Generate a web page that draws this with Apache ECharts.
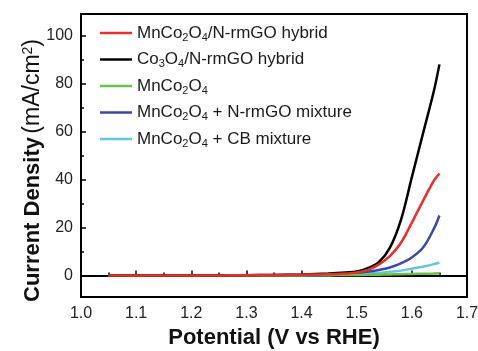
<!DOCTYPE html>
<html>
<head>
<meta charset="utf-8">
<script src="https://cdn.jsdelivr.net/npm/echarts@6/dist/echarts.min.js"></script>
<style>
    html, body { margin: 0; padding: 0; background: #fff; }
    #chart { width: 478px; height: 351px; }
</style>
</head>
<body>
<div id="chart"></div>
<script>
// potential (V vs RHE)
const potential = [1.05, 1.10, 1.15, 1.20, 1.25, 1.30, 1.35, 1.40, 1.45, 1.48, 1.50, 1.52, 1.54, 1.56, 1.58, 1.60, 1.62, 1.64, 1.65]
// current density (mA/cm2)
const mnCoHybrid = [0, 0, 0, 0, 0, 0.1, 0.15, 0.3, 0.5, 0.8, 1.2, 2.3, 4.5, 8, 13.5, 22, 31, 39.5, 42.5]
const coHybrid = [0, 0, 0, 0, 0, 0.1, 0.2, 0.4, 0.8, 1.2, 1.6, 3, 5.5, 11.5, 23, 41, 59, 77, 88]
const mnCo = [0, 0, 0, 0, 0, 0, 0, 0.05, 0.1, 0.15, 0.2, 0.25, 0.3, 0.4, 0.5, 0.6, 0.7, 0.8, 0.9]
const mnCoNrmGO = [0, 0, 0, 0, 0, 0.05, 0.1, 0.2, 0.3, 0.6, 0.9, 1.5, 2.3, 3.3, 5, 7.5, 11.5, 19.5, 25]
const mnCoCB = [0, 0, 0, 0, 0, 0, 0.05, 0.1, 0.2, 0.35, 0.5, 0.7, 1, 1.5, 2, 2.8, 3.6, 4.7, 5.4]
const seriesNames = ['MnCo2O4/N-rmGO hybrid', 'Co3O4/N-rmGO hybrid', 'MnCo2O4', 'MnCo2O4 + N-rmGO mixture', 'MnCo2O4 + CB mixture']
const legendLabels = [
    'MnCo{s|2}O{s|4}/N-rmGO hybrid',
    'Co{s|3}O{s|4}/N-rmGO hybrid',
    'MnCo{s|2}O{s|4}',
    'MnCo{s|2}O{s|4} + N-rmGO mixture',
    'MnCo{s|2}O{s|4} + CB mixture',
]
const seriesData = [mnCoHybrid, coHybrid, mnCo, mnCoNrmGO, mnCoCB]
const colors = ['#e8302a', '#000000', '#6cc04a', '#3a48a8', '#62c6df']
const xTicks = [1.0, 1.1, 1.2, 1.3, 1.4, 1.5, 1.6, 1.7]
const yMajor = [0, 20, 40, 60, 80, 100]
const yMinor = [10, 30, 50, 70, 90]

const chart = echarts.init(document.getElementById('chart'))

const font = 'Liberation Sans, Arial, sans-serif'

const option = {
    animation: false,
    textStyle: { fontFamily: font },
    grid: {
        left: 81,
        right: 11,
        top: 14,
        bottom: 54,
        outerBoundsMode: 'none',
        show: true,
        borderColor: '#000',
        borderWidth: 2,
    },
    legend: {
        orient: 'vertical',
        left: 95,
        top: 18,
        icon: 'rect',
        itemWidth: 32,
        itemHeight: 2.5,
        itemGap: 6.5,
        data: seriesNames,
        formatter: (name) => legendLabels[seriesNames.indexOf(name)],
        textStyle: {
            fontSize: 17,
            color: '#1a1a1a',
            lineHeight: 20,
            rich: {
                s: {
                    fontSize: 11,
                    color: '#1a1a1a',
                    verticalAlign: 'bottom',
                    lineHeight: 11,
                },
            },
        },
    },
    xAxis: {
        type: 'value',
        min: 1.0,
        max: 1.7,
        interval: 0.1,
        name: 'Potential (V vs RHE)',
        nameLocation: 'middle',
        nameGap: 30,
        nameMoveOverlap: false,
        nameTextStyle: { fontSize: 22, fontWeight: 'bold', color: '#111' },
        axisLine: { lineStyle: { color: '#000', width: 2 } },
        axisTick: { inside: true, length: 5, lineStyle: { color: '#000', width: 1.5 } },
        minorTick: { show: true, splitNumber: 2, length: 3, lineStyle: { color: '#000', width: 1.5 } },
        splitLine: { show: false },
        axisLabel: {
            margin: 9,
            fontSize: 16,
            color: '#222',
            formatter: (v) => v.toFixed(1),
            customValues: xTicks,
        },
    },
    yAxis: [
        {
            type: 'value',
            min: -9,
            max: 109,
            name: '{b|Current Density} {n|(mA/cm}{sup|2}{n|)}',
            nameLocation: 'middle',
            nameRotate: 90,
            nameGap: 37,
            nameMoveOverlap: false,
            nameTextStyle: {
                padding: [0, 30, 0, 0],
                rich: {
                    b: { fontSize: 22, fontWeight: 'bold', color: '#111', fontFamily: font },
                    n: { fontSize: 23, color: '#111', fontFamily: font },
                    sup: { fontSize: 14, color: '#111', verticalAlign: 'top', padding: [0, 0, 9, 0], fontFamily: font },
                },
            },
            axisLine: { show: true, lineStyle: { color: '#000', width: 2 } },
            axisTick: { inside: true, length: 5, customValues: yMajor, lineStyle: { color: '#000', width: 1.5 } },
            splitLine: { show: false },
            axisLabel: { margin: 8, fontSize: 16, color: '#222', customValues: yMajor },
        },
        {
            type: 'value',
            min: -9,
            max: 109,
            position: 'left',
            axisLine: { show: false },
            axisTick: { show: true, inside: true, length: 3, customValues: yMinor, lineStyle: { color: '#000', width: 1.5 } },
            axisLabel: { show: false },
            splitLine: { show: false },
        },
    ],
    series: seriesNames.map((name, i) => ({
        name: name,
        type: 'line',
        smooth: 0.35,
        symbol: 'none',
        data: potential.map((x, j) => [x, seriesData[i][j]]),
        lineStyle: { color: colors[i], width: 2.5 },
        itemStyle: { color: colors[i] },
        z: 5 - i,
    })),
}

chart.setOption(option)
</script>
</body>
</html>
